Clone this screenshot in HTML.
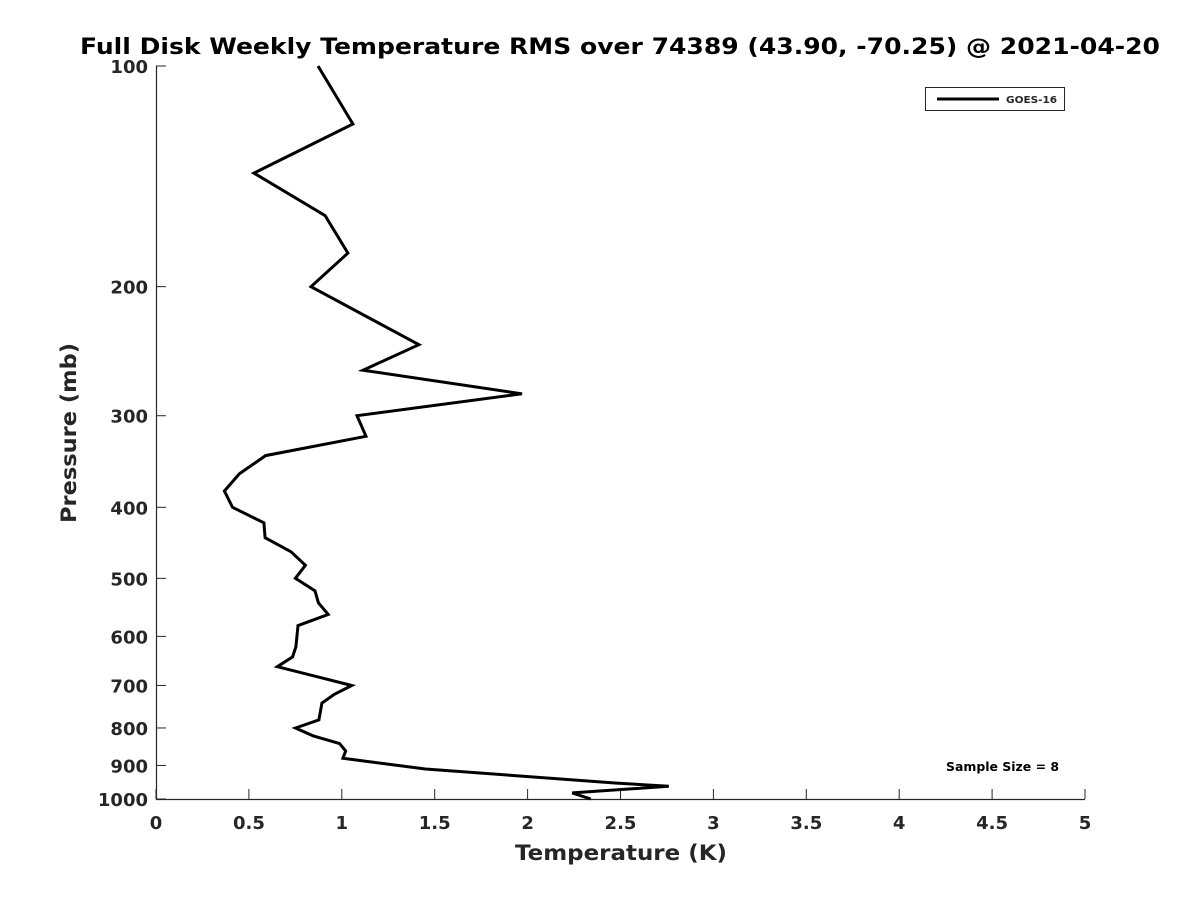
<!DOCTYPE html>
<html><head><meta charset="utf-8"><style>
html,body{margin:0;padding:0;background:#fff}
svg text{font-family:"DejaVu Sans","Liberation Sans",sans-serif;font-weight:bold;fill:#262626}
</style></head><body>
<svg id="chart" width="1200" height="900" viewBox="0 0 1200 900" xmlns="http://www.w3.org/2000/svg">
<rect width="1200" height="900" fill="#fff"/>
<text x="80" y="54" font-size="22" textLength="1080" lengthAdjust="spacingAndGlyphs" fill="#000" style="fill:#000">Full Disk Weekly Temperature RMS over 74389 (43.90, -70.25) @ 2021-04-20</text>
<g id="axes"></g>
<path id="series" fill="none" stroke="#000" stroke-width="3" stroke-linejoin="miter"/>
<g>
<rect x="925.5" y="87.5" width="139" height="23" fill="#fff" stroke="#262626" stroke-width="1"/>
<line x1="937" y1="99" x2="999" y2="99" stroke="#000" stroke-width="3"/>
<text x="1006" y="103" font-size="10" textLength="51" lengthAdjust="spacingAndGlyphs">GOES-16</text>
</g>
<text x="946" y="771" font-size="12" textLength="113" lengthAdjust="spacingAndGlyphs" style="fill:#000">Sample Size = 8</text>
<text x="515" y="860" font-size="21" textLength="212" lengthAdjust="spacingAndGlyphs">Temperature (K)</text>
<text transform="translate(76,523) rotate(-90)" font-size="21" textLength="180" lengthAdjust="spacingAndGlyphs">Pressure (mb)</text>
</svg>
<script>
const pressures=[100,120,140,160,180,200,240,260,280,300,320,340,360,380,400,420,440,460,480,500,520,540,560,580,620,640,660,680,700,720,740,780,800,820,840,860,880,910,951,961,981,1000];
const temps=[0.872,1.06,0.527,0.91,1.033,0.834,1.415,1.114,1.97,1.082,1.13,0.59,0.449,0.368,0.412,0.581,0.587,0.727,0.804,0.75,0.856,0.874,0.927,0.764,0.753,0.735,0.653,0.856,1.054,0.959,0.893,0.877,0.751,0.845,0.988,1.021,1.006,1.45,2.47,2.76,2.24,2.34];
const xTicks=[0,0.5,1,1.5,2,2.5,3,3.5,4,4.5,5];
const xTickLabels=["0","0.5","1","1.5","2","2.5","3","3.5","4","4.5","5"];
const yTicks=[100,200,300,400,500,600,700,800,900,1000];
const yTickLabels=["100","200","300","400","500","600","700","800","900","1000"];
const X0=156,X1=1085,Y0=66,Y1=799;
function xs(t){return X0+(t-0)/(5-0)*(X1-X0);}
function ys(p){return Y0+Math.log10(p/100)/Math.log10(1000/100)*(Y1-Y0);}
const NS="http://www.w3.org/2000/svg";
const axes=document.getElementById('axes');
function mk(tag,attrs,parent){const e=document.createElementNS(NS,tag);for(const k in attrs)e.setAttribute(k,attrs[k]);(parent||axes).appendChild(e);return e;}
const ax=mk('path',{d:`M${X0+0.5},${Y0} L${X0+0.5},${Y1+0.5} L${X1},${Y1+0.5}`,fill:'none',stroke:'#262626','stroke-width':1.2});


xTicks.forEach((t,i)=>{
  const x=xs(t);
  const l=mk('line',{x1:x,y1:Y1,x2:x,y2:Y1-10,stroke:'#262626','stroke-width':1});
  
  
  const tx=mk('text',{x:x,y:Y1+30,'font-size':18,'text-anchor':'middle'});
  
  
  tx.textContent=xTickLabels[i];
});
yTicks.forEach((p,i)=>{
  const y=ys(p);
  const l=mk('line',{x1:X0,y1:y,x2:X0+10,y2:y,stroke:'#262626','stroke-width':1});
  
  
  const tx=mk('text',{x:X0-8,y:y+7,'font-size':18,'text-anchor':'end'});
  
  
  tx.textContent=yTickLabels[i];
});
let d='';
pressures.forEach((p,i)=>{d+=(i?'L':'M')+xs(temps[i]).toFixed(1)+','+ys(p).toFixed(1)+' ';});
document.getElementById('series').setAttribute('d',d);
</script>
</body></html>
